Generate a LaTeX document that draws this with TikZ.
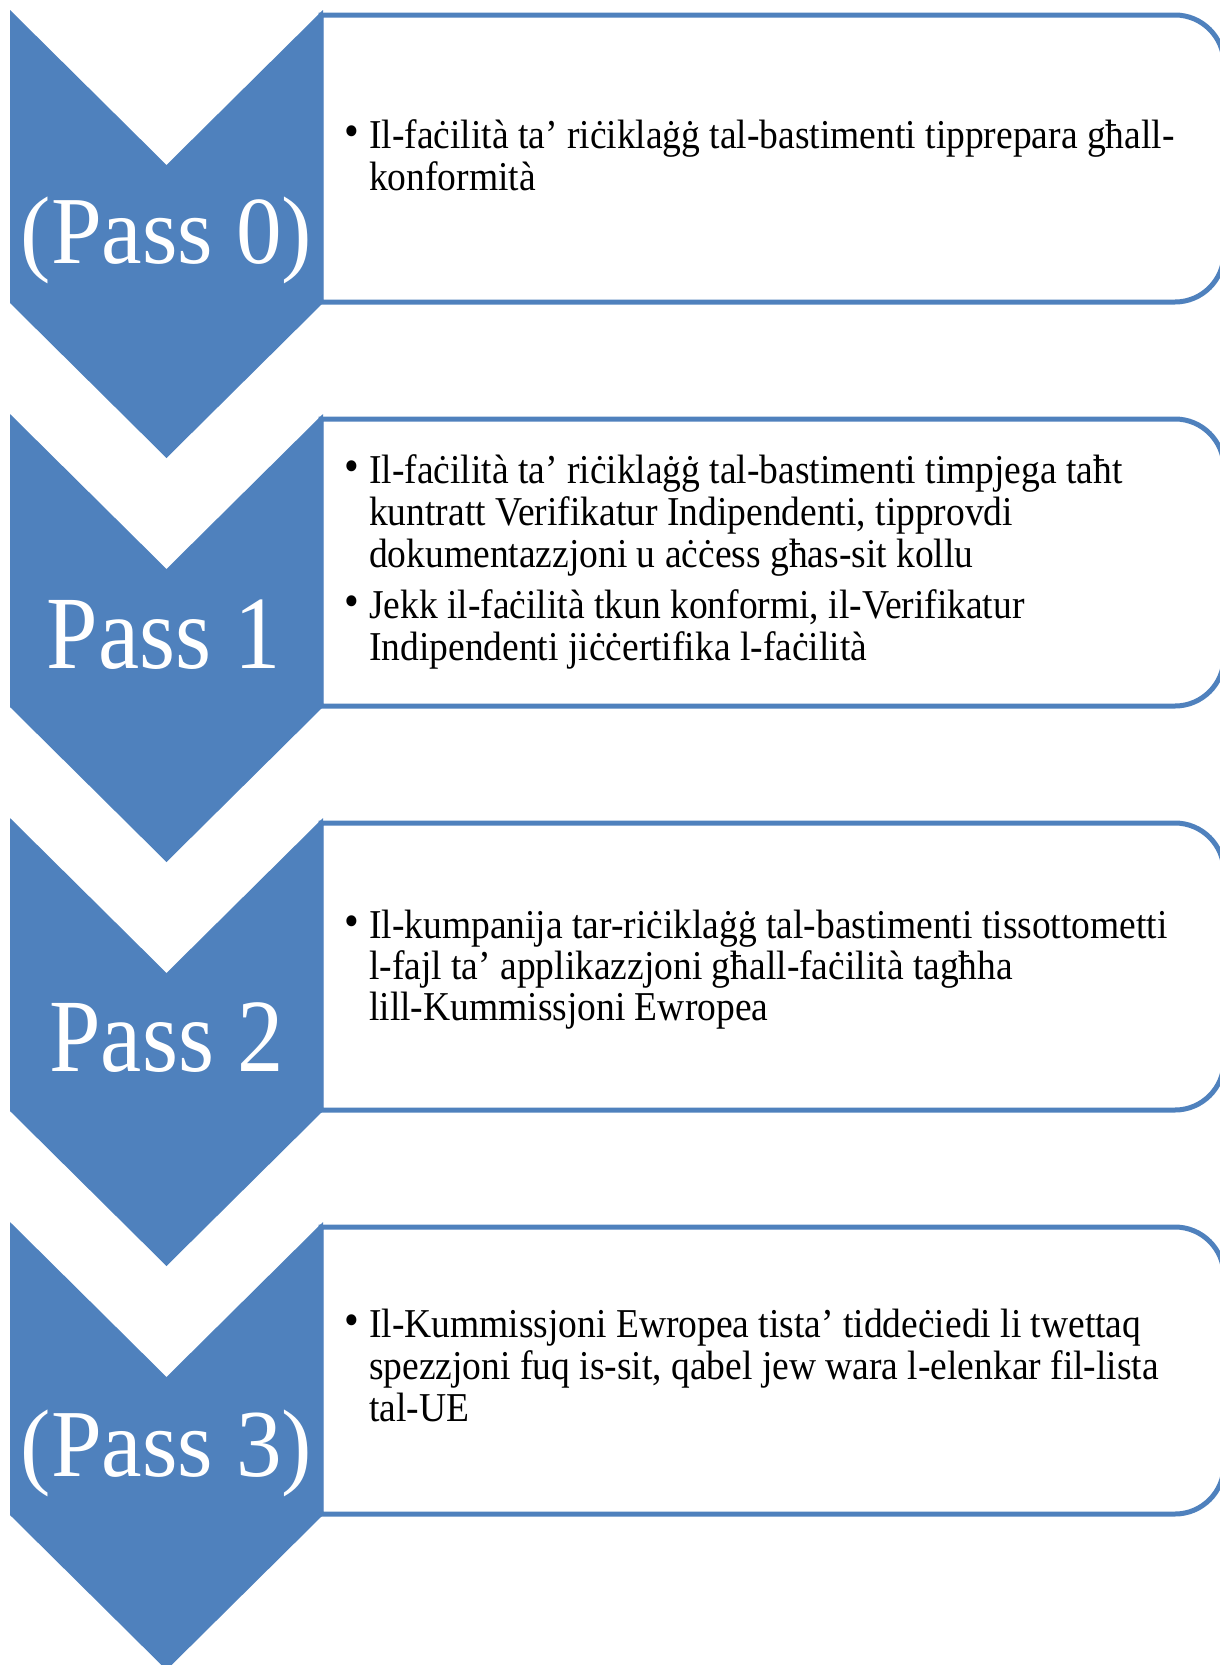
\documentclass[tikz,border=0pt]{standalone}
\usepackage{fontspec}
\setmainfont{Liberation Serif}[FakeStretch=0.915]
\newfontfamily\lblfont{Liberation Serif}[FakeStretch=0.89]
\newfontfamily\parlblfont{Liberation Serif}[FakeStretch=0.95]
\definecolor{accent}{HTML}{4F81BD}
\begin{document}
\begin{tikzpicture}[x=1pt,y=-1pt,
  chev/.style={fill=accent},
  stepbox/.style={draw=accent,line width=5pt,fill=white},
  lbl/.style={text=white,anchor=base,inner sep=0pt},
  biglbl/.style={lbl,font=\lblfont\fontsize{104}{104}\selectfont},
  parlbl/.style={lbl,font=\parlblfont\fontsize{96}{96}\selectfont},
  txt/.style={anchor=base west,inner sep=0pt,font=\fontsize{41}{42}\selectfont},
  bul/.style={anchor=base west,inner sep=0pt,font=\fontsize{46}{42}\selectfont}]
\useasboundingbox (0,0) rectangle (1220,1665);
\clip (0,0) rectangle (1220,1665);

% boxes
\foreach \k in {0,1,2,3}{
  \pgfmathsetmacro\B{15+404*\k}
  \pgfmathsetmacro\E{302+404*\k}
  \draw[stepbox] (321,\B) -- (1175,\B) .. controls (1202,\B) and (1224,\B+22) .. (1224,\B+49)
    -- (1224,\E-49) .. controls (1224,\E-22) and (1202,\E) .. (1175,\E) -- (321,\E) -- cycle;
}
% chevrons
\foreach \k in {0,1,2,3}{
  \pgfmathsetmacro\T{10+404*\k}
  \fill[chev] (10,\T) -- (166.5,\T+155) -- (323,\T) -- (323,\T+293) -- (166.5,\T+448) -- (10,\T+293) -- cycle;
}

% labels
\node[parlbl] (p0) at (166.5,263) {(Pass 0)};
\node[biglbl] (p1) at (164,668) {Pass 1};
\node[biglbl] (p2) at (166.5,1071) {Pass 2};
\node[parlbl] (p3) at (166.5,1476) {(Pass 3)};

% box 1
\node[bul] (b0) at (344,146) {•};
\node[txt] (t0a) at (369,148) {Il-faċilità ta’ riċiklaġġ tal-bastimenti tipprepara għall-};
\node[txt] (t0b) at (369,190) {konformità};

% box 2
\node[bul] (b1) at (344,481) {•};
\node[txt] (t1a) at (369,483) {Il-faċilità ta’ riċiklaġġ tal-bastimenti timpjega taħt};
\node[txt] (t1b) at (369,525) {kuntratt Verifikatur Indipendenti, tipprovdi};
\node[txt] (t1c) at (369,567) {dokumentazzjoni u aċċess għas-sit kollu};
\node[bul] (b2) at (344,616) {•};
\node[txt] (t1d) at (369,618) {Jekk il-faċilità tkun konformi, il-Verifikatur};
\node[txt] (t1e) at (369,660) {Indipendenti jiċċertifika l-faċilità};

% box 3
\node[bul] (b3) at (344,936) {•};
\node[txt] (t2a) at (369,938) {Il-kumpanija tar-riċiklaġġ tal-bastimenti tissottometti};
\node[txt] (t2b) at (369,979) {l-fajl ta’ applikazzjoni għall-faċilità tagħha};
\node[txt] (t2c) at (369,1020) {lill-Kummissjoni Ewropea};

% box 4
\node[bul] (b4) at (344,1335) {•};
\node[txt] (t3a) at (369,1337) {Il-Kummissjoni Ewropea tista’ tiddeċiedi li twettaq};
\node[txt] (t3b) at (369,1379) {spezzjoni fuq is-sit, qabel jew wara l-elenkar fil-lista};
\node[txt] (t3c) at (369,1421) {tal-UE};
\end{tikzpicture}
\end{document}
